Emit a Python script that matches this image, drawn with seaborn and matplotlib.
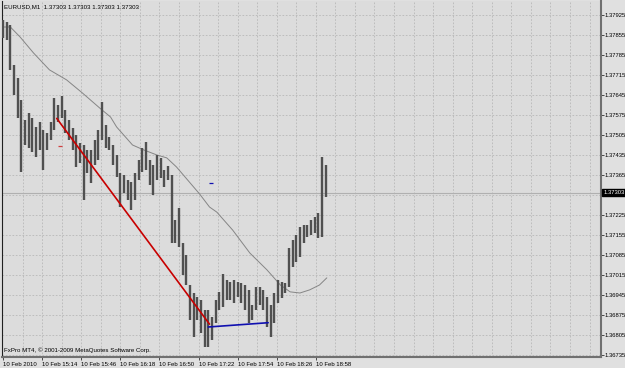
import numpy as np
import pandas as pd
import matplotlib
matplotlib.use("Agg")
import matplotlib.pyplot as plt
import matplotlib.transforms as mtrans
import seaborn as sns

# ---------------- data ----------------
symbol_title = "EURUSD,M1  1.37303 1.37303 1.37303 1.37303"
credit = "FxPro MT4, \u00a9 2001-2009 MetaQuotes Software Corp."
last_price = 1.37303

# minutes since 10 Feb 14:42 (3-minute bars)
bar_minute = list(range(0, 265, 3))
bar_high = [
    1.37908, 1.37901, 1.37890, 1.37750, 1.37705, 1.37628, 1.37558, 1.37582, 1.37565, 1.37533,
    1.37551, 1.37523, 1.37512, 1.37551, 1.37635, 1.37610, 1.37642, 1.37593, 1.37558, 1.37530,
    1.37505, 1.37477, 1.37470, 1.37453, 1.37453, 1.37488, 1.37523, 1.37621, 1.37540, 1.37498,
    1.37470, 1.37435, 1.37372, 1.37365, 1.37348, 1.37341, 1.37372, 1.37418, 1.37460, 1.37481,
    1.37418, 1.37400, 1.37435, 1.37425, 1.37383, 1.37397, 1.37365, 1.37208, 1.37250, 1.37127,
    1.37085, 1.36980, 1.36952, 1.36938, 1.36928, 1.36893, 1.36893, 1.36868, 1.36928, 1.36956,
    1.37019, 1.36998, 1.36991, 1.36998, 1.36991, 1.36987, 1.36980, 1.36963, 1.36910, 1.36973,
    1.36973, 1.36963, 1.36938, 1.36910, 1.36952, 1.36998, 1.36991, 1.36987, 1.37110, 1.37138,
    1.37155, 1.37183, 1.37190, 1.37190, 1.37208, 1.37218, 1.37232, 1.37428, 1.37400]
bar_low = [
    1.37845, 1.37838, 1.37733, 1.37645, 1.37565, 1.37376, 1.37470, 1.37460, 1.37446, 1.37428,
    1.37453, 1.37383, 1.37453, 1.37488, 1.37523, 1.37551, 1.37565, 1.37512, 1.37488, 1.37453,
    1.37393, 1.37407, 1.37278, 1.37372, 1.37337, 1.37400, 1.37418, 1.37488, 1.37460, 1.37453,
    1.37400, 1.37358, 1.37253, 1.37302, 1.37278, 1.37243, 1.37278, 1.37348, 1.37376, 1.37383,
    1.37330, 1.37295, 1.37348, 1.37355, 1.37323, 1.37348, 1.37127, 1.37127, 1.37113, 1.37015,
    1.36980, 1.36858, 1.36798, 1.36858, 1.36812, 1.36763, 1.36763, 1.36788, 1.36847, 1.36893,
    1.36903, 1.36928, 1.36928, 1.36917, 1.36938, 1.36917, 1.36893, 1.36847, 1.36858, 1.36893,
    1.36910, 1.36893, 1.36833, 1.36798, 1.36847, 1.36917, 1.36935, 1.36952, 1.36973, 1.37043,
    1.37061, 1.37078, 1.37127, 1.37148, 1.37155, 1.37162, 1.37145, 1.37148, 1.37288]

ma_minute = [0, 6, 14, 25, 38, 52, 65, 79, 88, 93, 106, 115, 126, 134, 142, 151, 161,
             169, 175, 188, 202, 216, 227, 235, 243, 251, 259, 265]
ma_value = [1.37883, 1.37883, 1.37848, 1.37792, 1.37733, 1.37698, 1.37652, 1.37600,
            1.37568, 1.37533, 1.37470, 1.37453, 1.37435, 1.37425, 1.37393, 1.37348,
            1.37298, 1.37253, 1.37235, 1.37172, 1.37092, 1.37033, 1.36980, 1.36956,
            1.36952, 1.36963, 1.36980, 1.37005]

red_minute = [44, 169]
red_value = [1.37563, 1.36843]
blue_minute = [168, 217]
blue_value = [1.36833, 1.36848]
red_mark = (46.5, 1.37468)
blue_mark = (170, 1.37336)

price_ticks = [1.36735, 1.36805, 1.36875, 1.36945, 1.37015, 1.37085, 1.37155, 1.37225,
               1.37295, 1.37365, 1.37435, 1.37505, 1.37575, 1.37645, 1.37715, 1.37785,
               1.37855, 1.37925]
price_tick_labels = ["1.36735", "1.36805", "1.36875", "1.36945", "1.37015", "1.37085",
                     "1.37155", "1.37225", "", "1.37365", "1.37435", "1.37505", "1.37575",
                     "1.37645", "1.37715", "1.37785", "1.37855", "1.37925"]
time_ticks = [0, 32, 64, 96, 128, 160, 192, 224, 256]
time_labels = ["10 Feb 2010", "10 Feb 15:14", "10 Feb 15:46", "10 Feb 16:18",
               "10 Feb 16:50", "10 Feb 17:22", "10 Feb 17:54", "10 Feb 18:26",
               "10 Feb 18:58"]
grid_minutes = list(range(16, 490, 16))

# ---------------- style ----------------
sns.set_style("white")
plt.rcParams["font.family"] = ["Liberation Sans Narrow", "Liberation Sans", "DejaVu Sans"]

BG = "#dcdcdc"
fig = plt.figure(figsize=(6.25, 3.68), dpi=100, facecolor="#e0e0e0")
ax = fig.add_axes([2 / 625, 11 / 368, 599 / 625, 356 / 368])
ax.set_facecolor(BG)

ax.set_xlim(-0.82, 489.4)
ax.set_ylim(1.36728, 1.37974)

# grid
for gm in grid_minutes:
    ax.axvline(gm, color="#b8b8b8", lw=0.6, ls=(0, (2, 2)), zorder=0)
for pt in price_ticks:
    ax.axhline(pt, color="#b8b8b8", lw=0.6, ls=(0, (2, 2)), zorder=0)

# current price line
ax.axhline(last_price, color="#b0b0b0", lw=0.8, zorder=1)

# moving average
ma_df = pd.DataFrame({"m": ma_minute, "v": ma_value})
sns.lineplot(data=ma_df, x="m", y="v", ax=ax, color="#858585", lw=0.7, zorder=2)

# bars
ax.vlines(bar_minute, bar_low, bar_high, colors="#505050", lw=1.7, zorder=3)

# trend lines
red_df = pd.DataFrame({"m": red_minute, "v": red_value})
blue_df = pd.DataFrame({"m": blue_minute, "v": blue_value})
sns.lineplot(data=red_df, x="m", y="v", ax=ax, color="#c80000", lw=1.2, zorder=4)
sns.lineplot(data=blue_df, x="m", y="v", ax=ax, color="#1010b0", lw=1.2, zorder=4)
ax.plot([red_mark[0]], [red_mark[1]], marker="_", ms=3, mew=0.9, color="#d04040", zorder=4)
ax.plot([blue_mark[0]], [blue_mark[1]], marker="_", ms=3, mew=0.9, color="#1010b0", zorder=4)

# axes
ax.set_xlabel("")
ax.set_ylabel("")
ax.yaxis.tick_right()
ax.set_yticks(price_ticks)
ax.set_yticklabels(price_tick_labels)
ax.set_xticks(time_ticks)
ax.set_xticklabels(time_labels, ha="left")
ax.tick_params(axis="y", right=True, left=False, length=2, width=0.6, pad=0.8,
               labelsize=4.2, colors="#303030", labelcolor="black")
ax.tick_params(axis="x", bottom=True, length=2.5, width=0.6, pad=0.8, labelsize=4.3,
               colors="#303030", labelcolor="black")
for lab in ax.get_xticklabels():
    lab.set_horizontalalignment("left")

ax.spines["top"].set_visible(False)
ax.spines["left"].set_color("#202020")
ax.spines["left"].set_linewidth(0.8)
ax.spines["right"].set_color("#707070")
ax.spines["right"].set_linewidth(1.5)
ax.spines["bottom"].set_color("#707070")
ax.spines["bottom"].set_linewidth(1.5)

# texts
ax.text(0.003, 0.983, symbol_title, transform=ax.transAxes, fontsize=4.4,
        ha="left", va="center", color="black")
ax.text(0.003, 0.018, credit, transform=ax.transAxes, fontsize=4.4,
        ha="left", va="center", color="black")

trans = mtrans.blended_transform_factory(ax.transAxes, ax.transData)
ax.text(1.0035, last_price, "1.37303", transform=trans, fontsize=4.2, color="white",
        ha="left", va="center",
        bbox=dict(boxstyle="square,pad=0.15", fc="black", ec="black"))

fig.savefig("out.png", dpi=100, facecolor=fig.get_facecolor())
